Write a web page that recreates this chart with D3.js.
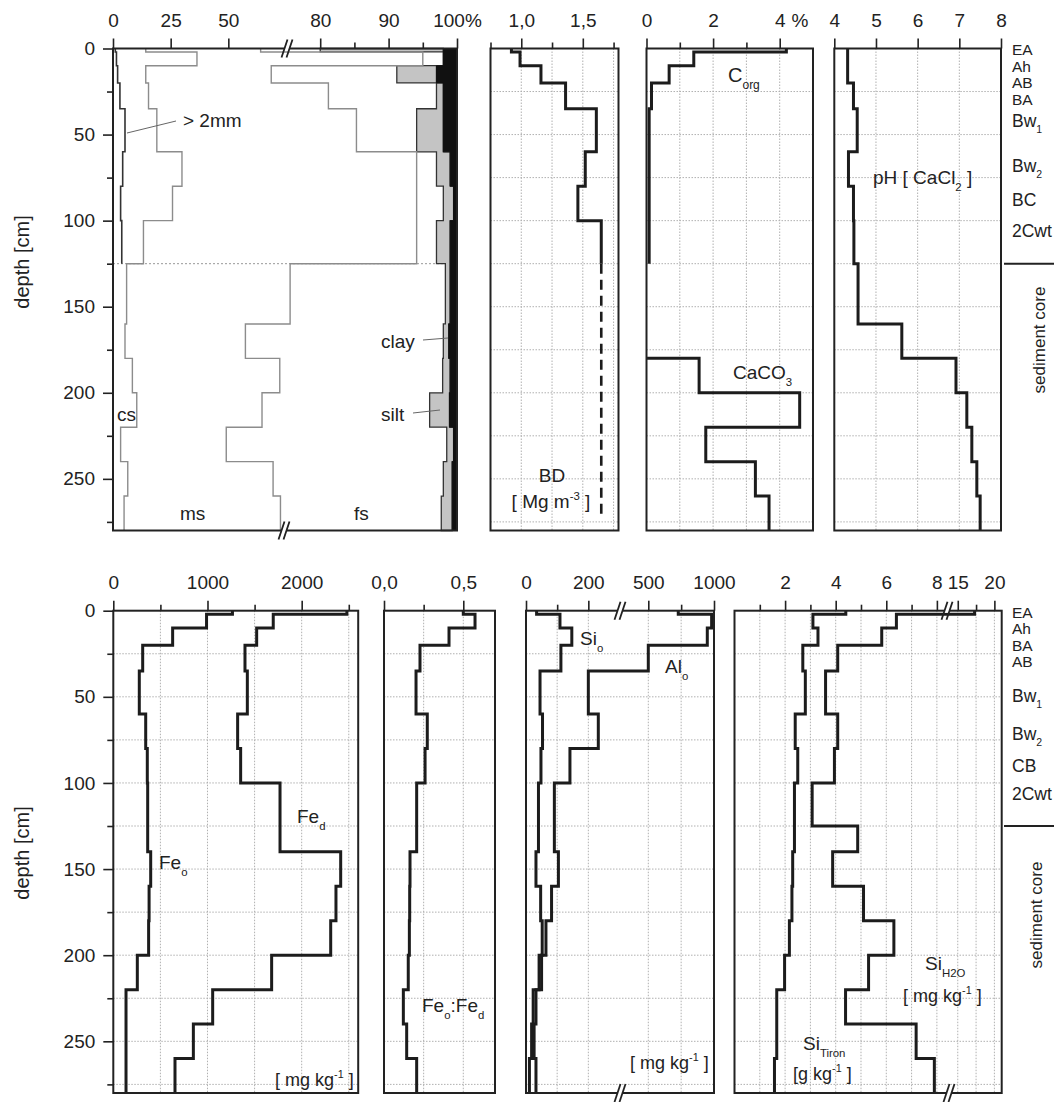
<!DOCTYPE html>
<html><head><meta charset="utf-8">
<script src="https://cdn.jsdelivr.net/npm/d3@7"></script>
<style>
body{margin:0;background:#fff}
svg{display:block}
text{font-family:"Liberation Sans", Arial, Helvetica, sans-serif; fill:#222}
</style></head>
<body><svg id="c" width="1056" height="1102"></svg>
<script>
// ---------------- DATA ----------------
// layer boundaries (cm)
const depthTop = [0,2,10,20,35,60,80,100,125,160,180,200,220,240,260,280];
const depthBot = [0,2,10,20,35,60,80,100,125,140,160,180,200,220,240,260,280];
const gridDepths = [25,50,75,100,125,150,175,200,225,250,275];

// texture, cumulative % (top panel layers)
const gravel     = [1.0,1.5,2.0,3.0,5.2,4.2,3.3,3.8,null,null,null,null,null,null,null];
const coarseSand = [14.2,36.4,14.2,15.4,19.0,29.9,25.8,13.2,5.9,5.2,8.4,10.3,3.3,6.4,4.8];
const mediumSand = [64,95.0,68.6,81.2,85.3,94.1,94.1,94.1,75.6,57.4,72.3,64.6,49.1,69.4,72.6];
const siltStart  = [80,98.0,91.2,97.0,94.1,97.0,98.0,97.0,98.3,98.0,97.9,96.0,98.5,98.0,97.7];
const clayStart  = [98.0,98.0,97.0,98.0,98.0,99.0,99.5,99.0,99.0,98.8,99.0,98.9,99.5,99.3,99.3];

const bulkDensity = [0.92,0.99,1.16,1.36,1.61,1.52,1.46,1.65,null,null,null,null,null,null,null];
const bulkDensityCore = [[1.65,125],[1.65,272]];
const orgCarbon  = [4.2,1.42,0.68,0.15,0.08,0.08,0.08,0.08,null,null,null,null,null,null,null];
const carbonate  = [null,null,null,null,null,null,null,null,null,null,1.58,4.6,1.78,3.27,3.68];
const phCaCl2    = [4.32,4.32,4.32,4.46,4.55,4.34,4.46,4.47,4.57,5.62,6.92,7.18,7.30,7.42,7.50];

// bottom panel layers
const feOxalate  = [1265,990,630,312,276,344,361,365,365,397,380,375,255,135,135,135];
const feDithion  = [2480,1698,1522,1398,1423,1320,1352,1770,1770,2414,2364,2308,1681,1055,850,655];
const feRatio    = [0.50,0.574,0.41,0.227,0.202,0.273,0.259,0.206,0.206,0.164,0.162,0.16,0.153,0.122,0.143,0.206];
const siOxalate  = [34,109,147,112,45,53,48,40,40,32,47,52,42,23,18,11];
const alOxalate  = [728,982,949,500,200,232,141,91,91,104,82,64,50,32,26,32];
const siTiron    = [4.4,3.1,3.3,2.7,2.8,2.4,2.5,2.37,2.37,2.3,2.27,2.17,1.98,1.67,1.67,1.58];
const siWater    = [17.3,6.4,5.82,4.08,3.6,4.08,3.95,3.07,4.87,3.88,5.1,6.3,5.3,4.39,7.18,7.9];

// horizons (label, depth of label centre)
const horizonsTop = [["EA",0.6],["Ah",10.2],["AB",19.8],["BA",29.4],["Bw|1",42],["Bw|2",68],["BC",88],["2Cwt",106]];
const horizonsBot = [["EA",0.7],["Ah",10.3],["BA",19.9],["AB",29.5],["Bw|1",49],["Bw|2",71.5],["CB",90],["2Cwt",106]];
const coreTop = 125;

// tick definitions
const depthTicks = [0,50,100,150,200,250];
const depthMinor = [25,75,125,175,225,275];
const texTicks = [0,25,50,80,90,100], texLabels = ["0","25","50","80","90","100%"], texMinor=[85,95];
const bdTicks = [1.0,1.5], bdLabels = ["1,0","1,5"], bdMinor=[0.75,1.25,1.75], bdGrid=[1.0,1.25,1.5,1.75];
const cTicks = [0,2,4], cLabels = ["0","2","4"], cMinor=[1,3], cGrid=[1,2,3,4];
const phTicks = [4,5,6,7,8], phLabels=["4","5","6","7","8"], phGrid=[5,6,7];
const feTicks = [0,1000,2000], feLabels=["0","1000","2000"], feMinor=[500,1500,2500], feGrid=[500,1000,1500,2000,2500];
const rTicks = [0,0.5], rLabels=["0,0","0,5"], rMinor=[0.25], rGrid=[0.25,0.5];
const saTicks = [0,200,500,1000], saLabels=["0","200","500","1000"], saMinor=[100,750], saGrid=[100,200,500,750];
const siTicks = [2,4,6,8,15,20], siLabels=["2","4","6","8","15","20"], siMinor=[1,3,5,7,17.5], siGrid=[1,2,3,4,5,6,7,8,15,17.5,20];

// ---------------- DRAWING ----------------
const svg = d3.select('#c');
const INK = '#222';
const yTop = d3.scaleLinear().domain([0,280]).range([48.5,530.5]);
const yBot = d3.scaleLinear().domain([0,280]).range([610.7,1093]);

const xTex = d3.scaleLinear().domain([0,75,100]).range([113,286,457]);
const xBD  = d3.scaleLinear().domain([0.75,1.79]).range([490.5,618.5]);
const xC   = d3.scaleLinear().domain([0,5]).range([646.5,813]);
const xPH  = d3.scaleLinear().domain([4,8]).range([834.3,1001]);
const xFe  = d3.scaleLinear().domain([0,2600]).range([113.3,358.2]);
const xR   = d3.scaleLinear().domain([0,0.7]).range([384,495]);
const xSA  = d3.scaleLinear().domain([0,300,500,1000]).range([526,619.5,648.3,714]);
const xSi  = d3.scaleLinear().domain([0,8.4,13.6,21]).range([734.5,947,947.5,1001.7]);

const gGrid = svg.append('g');
const gData = svg.append('g');
const gFrame = svg.append('g');
const gText = svg.append('g');

function ends(s){const r=s.range();return [r[0],r[r.length-1]];}

function grid(xs, ys, vx){
  const [x0,x1]=ends(xs), [y0,y1]=ys.range();
  gGrid.selectAll(null).data(gridDepths).join('line')
    .attr('x1',x0).attr('x2',x1).attr('y1',d=>ys(d)).attr('y2',d=>ys(d))
    .attr('stroke','#b0b0b0').attr('stroke-width',1).attr('stroke-dasharray','1.5,1.5');
  gGrid.selectAll(null).data(vx).join('line')
    .attr('y1',y0).attr('y2',y1).attr('x1',d=>xs(d)).attr('x2',d=>xs(d))
    .attr('stroke','#b0b0b0').attr('stroke-width',1).attr('stroke-dasharray','1.5,1.5');
}

function frame(xs, ys, major, labels, minor){
  const [x0,x1]=ends(xs), [y0,y1]=ys.range();
  gFrame.append('rect').attr('x',x0).attr('y',y0).attr('width',x1-x0).attr('height',y1-y0)
    .attr('fill','none').attr('stroke',INK).attr('stroke-width',2);
  const a = gFrame.append('g').attr('transform',`translate(0,${y0})`)
    .call(d3.axisTop(xs).tickValues(major).tickFormat((d,i)=>labels[i]).tickSize(10).tickPadding(11.5));
  a.select('.domain').remove();
  a.attr('font-size',19).attr('font-family','"Liberation Sans", Arial, sans-serif');
  a.selectAll('line').attr('stroke',INK).attr('stroke-width',1.6);
  a.selectAll('text').attr('fill',INK);
  if(minor){
    const m = gFrame.append('g').attr('transform',`translate(0,${y0})`)
      .call(d3.axisTop(xs).tickValues(minor).tickFormat('').tickSize(6));
    m.select('.domain').remove();
    m.selectAll('line').attr('stroke',INK).attr('stroke-width',1.6);
  }
}

function yAxis(ys, x){
  const a = gFrame.append('g').attr('transform',`translate(${x},0)`)
    .call(d3.axisLeft(ys).tickValues(depthTicks).tickSize(10).tickPadding(8));
  a.select('.domain').remove();
  a.attr('font-size',19).attr('font-family','"Liberation Sans", Arial, sans-serif');
  a.selectAll('line').attr('stroke',INK).attr('stroke-width',1.6);
  a.selectAll('text').attr('fill',INK);
  const m = gFrame.append('g').attr('transform',`translate(${x},0)`)
    .call(d3.axisLeft(ys).tickValues(depthMinor).tickFormat('').tickSize(6));
  m.select('.domain').remove();
  m.selectAll('line').attr('stroke',INK).attr('stroke-width',1.6);
}

function stepPts(bounds, vals){
  const pts=[];
  vals.forEach((v,i)=>{ if(v==null) return; pts.push([v,bounds[i]],[v,bounds[i+1]]); });
  return pts;
}
function drawStep(xs, ys, pts, opt={}){
  gData.append('path').datum(pts)
    .attr('d', d3.line().x(d=>xs(d[0])).y(d=>ys(d[1])))
    .attr('fill','none').attr('stroke',opt.color||'#1c1c1c')
    .attr('stroke-width',opt.w||3).attr('stroke-linejoin','miter')
    .attr('stroke-dasharray',opt.dash||null);
}

function rich(x, y, parts, size=19, anchor='start'){
  const t = gText.append('text').attr('x',x).attr('y',y).attr('font-size',size).attr('text-anchor',anchor);
  let shift=0;
  parts.forEach(p=>{
    const s = p.sub ? size*0.35 : p.sup ? -size*0.42 : 0;
    t.append('tspan').attr('dy', s-shift).attr('font-size', (p.sub||p.sup)? size*0.6 : size).text(p.t);
    shift=s;
  });
  return t;
}
function breakMark(x, yc){
  gFrame.append('rect').attr('x',x-3).attr('y',yc-2).attr('width',6).attr('height',4).attr('fill','#fff');
  [-2.5,2.5].forEach(o=>{
    gFrame.append('line').attr('x1',x+o-3).attr('y1',yc+9).attr('x2',x+o+3).attr('y2',yc-9)
      .attr('stroke',INK).attr('stroke-width',1.8);
  });
}

// ---- top row grids
grid(xBD, yTop, bdGrid);
grid(xC, yTop, cGrid);
grid(xPH, yTop, phGrid);
// texture: dotted line at top of sediment core
gGrid.append('line').attr('x1',113).attr('x2',457).attr('y1',yTop(coreTop)).attr('y2',yTop(coreTop))
  .attr('stroke','#999').attr('stroke-width',1).attr('stroke-dasharray','2,2');

// ---- bottom row grids
grid(xFe, yBot, feGrid);
grid(xR, yBot, rGrid);
grid(xSA, yBot, saGrid);
grid(xSi, yBot, siGrid);

// ---- texture panel
const texPts = [];
siltStart.forEach((s,i)=>{
  texPts.push({s, c:clayStart[i], d:depthTop[i]},{s, c:clayStart[i], d:depthTop[i+1]});
});
gData.append('path').datum(texPts)
  .attr('d', d3.area().y(d=>yTop(d.d)).x0(d=>xTex(d.s)).x1(d=>xTex(d.c)))
  .attr('fill','#c4c4c4').attr('stroke','#333').attr('stroke-width',1.3);
gData.append('path').datum(texPts)
  .attr('d', d3.area().y(d=>yTop(d.d)).x0(d=>xTex(d.c)).x1(()=>xTex(100)))
  .attr('fill','#111').attr('stroke','#111').attr('stroke-width',1);
drawStep(xTex, yTop, stepPts(depthTop, coarseSand), {color:'#8c8c8c', w:1.4});
drawStep(xTex, yTop, stepPts(depthTop, mediumSand), {color:'#8c8c8c', w:1.4});
drawStep(xTex, yTop, stepPts(depthTop, gravel), {color:'#333', w:1.6});

// ---- BD
drawStep(xBD, yTop, stepPts(depthTop, bulkDensity));
drawStep(xBD, yTop, bulkDensityCore, {w:2.6, dash:'10,6'});
// ---- C
drawStep(xC, yTop, stepPts(depthTop, orgCarbon));
const carbPts = stepPts(depthTop, carbonate);
carbPts.unshift([0, carbPts[0][1]]);
drawStep(xC, yTop, carbPts);
// ---- pH
drawStep(xPH, yTop, stepPts(depthTop, phCaCl2));

// ---- bottom
drawStep(xFe, yBot, stepPts(depthBot, feOxalate));
drawStep(xFe, yBot, stepPts(depthBot, feDithion));
drawStep(xR, yBot, stepPts(depthBot, feRatio));
drawStep(xSA, yBot, stepPts(depthBot, siOxalate));
drawStep(xSA, yBot, stepPts(depthBot, alOxalate));
drawStep(xSi, yBot, stepPts(depthBot, siTiron));
drawStep(xSi, yBot, stepPts(depthBot, siWater));

// ---- frames and axes
frame(xTex, yTop, texTicks, texLabels, texMinor);
frame(xBD, yTop, bdTicks, bdLabels, bdMinor);
frame(xC, yTop, cTicks, cLabels, cMinor);
frame(xPH, yTop, phTicks, phLabels, null);
frame(xFe, yBot, feTicks, feLabels, feMinor);
frame(xR, yBot, rTicks, rLabels, rMinor);
frame(xSA, yBot, saTicks, saLabels, saMinor);
frame(xSi, yBot, siTicks, siLabels, siMinor);
yAxis(yTop, 113);
yAxis(yBot, 113.3);
gText.append('text').attr('x',800).attr('y',27).attr('font-size',19).attr('text-anchor','middle').text('%');

// break marks
breakMark(287, yTop(0)); breakMark(284, yTop(280));
breakMark(620, yBot(0)); breakMark(620, yBot(280));
breakMark(947, yBot(0)); breakMark(949, yBot(280));

// depth axis titles
[262,853].forEach(cy=>{
  gText.append('text').attr('transform',`translate(29,${cy}) rotate(-90)`).attr('text-anchor','middle')
    .attr('font-size',20).text('depth [cm]');
});

// horizons
function horizons(list, ys){
  list.forEach(([lab,d],i)=>{
    const [a,b]=lab.split('|');
    const parts=[{t:a}]; if(b) parts.push({t:b,sub:true});
    const fs = i < 4 ? 15.5 : 17.5;
    rich(1012, ys(d)+fs*0.37, parts, fs);
  });
  gFrame.append('line').attr('x1',1004).attr('x2',1054).attr('y1',ys(coreTop)).attr('y2',ys(coreTop))
    .attr('stroke',INK).attr('stroke-width',2);
}
horizons(horizonsTop, yTop);
horizons(horizonsBot, yBot);
gText.append('text').attr('transform','translate(1045,340) rotate(-90)').attr('text-anchor','middle').attr('font-size',17).text('sediment core');
gText.append('text').attr('transform','translate(1042,915) rotate(-90)').attr('text-anchor','middle').attr('font-size',17).text('sediment core');

// in-panel labels (top)
rich(183,127,[{t:'> 2mm'}],19);
gText.append('line').attr('x1',127).attr('y1',133).attr('x2',176).attr('y2',121).attr('stroke','#666').attr('stroke-width',1);
rich(117,421,[{t:'cs'}],19);
rich(180,520,[{t:'ms'}],19);
rich(354,520,[{t:'fs'}],19);
rich(381,348,[{t:'clay'}],19);
gText.append('line').attr('x1',423).attr('y1',340).attr('x2',448).attr('y2',338).attr('stroke','#666').attr('stroke-width',1);
rich(381,421,[{t:'silt'}],19);
gText.append('line').attr('x1',413).attr('y1',413).attr('x2',440).attr('y2',410).attr('stroke','#666').attr('stroke-width',1);
rich(552,482,[{t:'BD'}],19,'middle');
rich(551,508,[{t:'[ Mg m'},{t:'-3',sup:true},{t:' ]'}],19,'middle');
rich(728,82,[{t:'C'},{t:'org',sub:true}],20);
rich(733,379,[{t:'CaCO'},{t:'3',sub:true}],19);
rich(873,184,[{t:'pH [ CaCl'},{t:'2',sub:true},{t:' ]'}],19);

// in-panel labels (bottom)
rich(297,823,[{t:'Fe'},{t:'d',sub:true}],19);
rich(159,869,[{t:'Fe'},{t:'o',sub:true}],19);
rich(275,1086,[{t:'[ mg kg'},{t:'-1',sup:true},{t:' ]'}],18);
rich(422,1012,[{t:'Fe'},{t:'o',sub:true},{t:':Fe'},{t:'d',sub:true}],19);
rich(580,645,[{t:'Si'},{t:'o',sub:true}],19);
rich(665,673,[{t:'Al'},{t:'o',sub:true}],19);
rich(630,1069,[{t:'[ mg kg'},{t:'-1',sup:true},{t:' ]'}],18);
rich(925,970,[{t:'Si'},{t:'H2O',sub:true}],19);
rich(903,1002,[{t:'[ mg kg'},{t:'-1',sup:true},{t:' ]'}],18);
rich(803,1050,[{t:'Si'},{t:'Tiron',sub:true}],19);
rich(793,1080,[{t:'[g kg'},{t:'-1',sup:true},{t:' ]'}],18);
</script>
</body></html>
